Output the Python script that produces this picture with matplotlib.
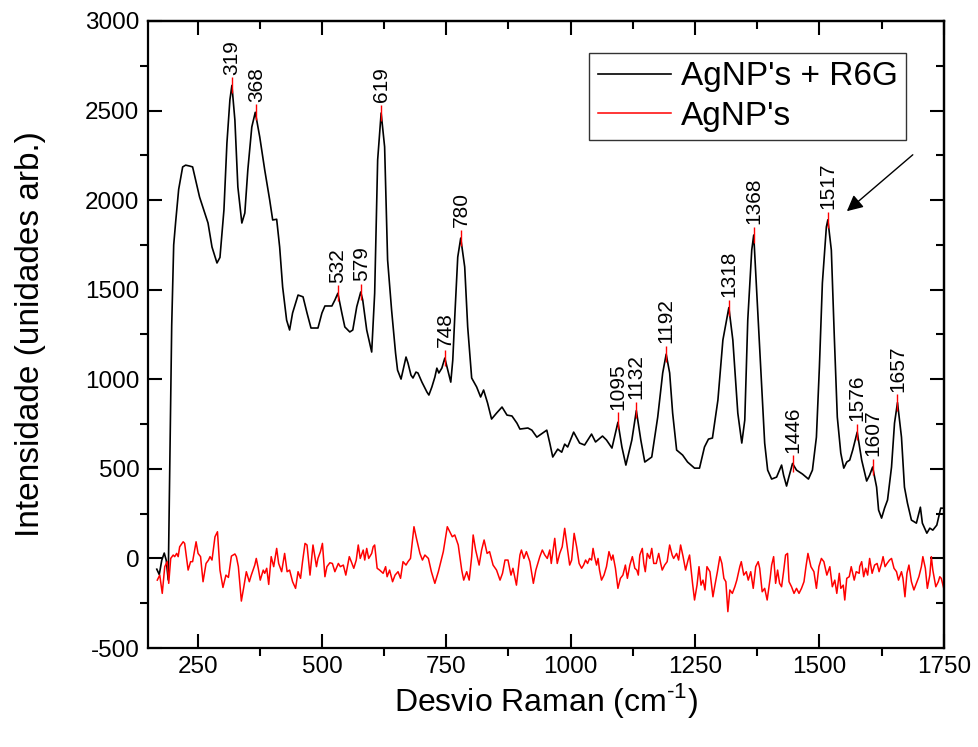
import matplotlib
matplotlib.use("Agg")
import matplotlib.pyplot as plt
import numpy as np

plt.rcParams['font.family'] = ['Liberation Sans', 'DejaVu Sans']
plt.rcParams['mathtext.fontset'] = 'custom'
plt.rcParams['mathtext.rm'] = 'Liberation Sans'
plt.rcParams['axes.unicode_minus'] = False

# espectro AgNP's + R6G
raman_x = [168, 173, 178, 183, 187, 191, 194, 198, 202, 206, 212, 220, 226, 234, 240, 254, 271, 279,
           289, 295, 303, 309, 315, 319, 325, 331, 339, 345, 351, 359, 366, 375, 385, 395, 401, 409,
           415, 421, 429, 435, 441, 452, 462, 470, 478, 492, 500, 506, 520, 526, 532, 540, 546, 556,
           562, 570, 578, 582, 590, 600, 606, 612, 619, 626, 632, 640, 648, 652, 659, 663, 669, 673,
           679, 683, 689, 693, 701, 711, 715, 721, 727, 731, 735, 741, 747, 753, 759, 763, 767, 773,
           779, 787, 793, 801, 811, 819, 825, 833, 841, 851, 862, 872, 882, 892, 898, 914, 922, 932,
           952, 958, 964, 974, 982, 988, 994, 1006, 1018, 1028, 1042, 1050, 1064, 1072, 1083, 1095,
           1103, 1111, 1123, 1132, 1141, 1149, 1163, 1175, 1185, 1192, 1199, 1205, 1213, 1225, 1235,
           1249, 1259, 1269, 1277, 1285, 1296, 1306, 1318, 1326, 1336, 1344, 1350, 1356, 1364, 1368,
           1376, 1384, 1390, 1396, 1404, 1414, 1424, 1428, 1434, 1438, 1446, 1454, 1466, 1478, 1486,
           1494, 1500, 1506, 1514, 1517, 1524, 1530, 1536, 1543, 1549, 1555, 1561, 1567, 1576, 1585,
           1595, 1601, 1607, 1615, 1619, 1625, 1631, 1637, 1645, 1651, 1657, 1665, 1671, 1677, 1685,
           1695, 1703, 1707, 1716, 1722, 1728, 1736, 1744, 1750]
raman_y = [-60, -90, -10, 30, -10, -120, 500, 1300, 1750, 1880, 2060, 2185, 2195, 2190, 2185, 2017, 1872, 1738,
           1649, 1680, 1945, 2319, 2560, 2640, 2447, 2073, 1872, 1928, 2168, 2408, 2490, 2352, 2168, 2000, 1889, 1893,
           1738, 1515, 1330, 1275, 1370, 1470, 1460, 1370, 1286, 1286, 1370, 1409, 1409, 1442, 1480, 1370, 1292, 1264,
           1275, 1405, 1487, 1442, 1275, 1152, 1480, 2224, 2486, 2297, 1666, 1387, 1146, 1051, 1001, 1051, 1124, 1090,
           1023, 1007, 1040, 1035, 984, 929, 912, 957, 1012, 1062, 1035, 1062, 1118, 1051, 984, 1107, 1347, 1682,
           1788, 1627, 1292, 1007, 957, 901, 940, 867, 778, 811, 845, 800, 795, 755, 722, 728, 716, 677,
           716, 644, 566, 610, 593, 638, 622, 705, 644, 633, 694, 650, 683, 661, 616, 760,
           622, 521, 661, 825, 661, 538, 566, 789, 1035, 1140, 1035, 811, 605, 577, 538,
           504, 504, 622, 666, 672, 884, 1219, 1400, 1219, 811, 644, 772, 1330, 1721, 1805,
           1387, 979, 644, 493, 443, 454, 521, 465, 404, 448, 530, 493, 471, 443, 493,
           677, 1068, 1537, 1850, 1890, 1721, 1236, 789, 588, 504, 538, 549, 605, 705, 549,
           432, 465, 510, 398, 270, 225, 281, 326, 510, 755, 870, 677, 398, 309, 214,
           197, 286, 197, 141, 169, 158, 186, 281, 280]

# espectro AgNP's (branco)
agnp_x = [169, 174, 179, 184, 189, 192, 196, 201, 204, 208, 211, 214, 221, 224, 231, 236, 240, 247, 251, 256,
          261, 267, 272, 275, 279, 285, 290, 295, 301, 307, 312, 318, 325, 328, 332, 338, 343, 348, 354, 358,
          365, 368, 372, 376, 382, 385, 389, 393, 398, 403, 409, 413, 419, 425, 430, 435, 441, 447, 452, 457,
          461, 466, 470, 476, 482, 489, 492, 497, 501, 506, 510, 516, 521, 526, 533, 537, 543, 548, 555, 559,
          564, 569, 573, 577, 583, 586, 590, 594, 600, 603, 606, 611, 616, 623, 628, 631, 636, 642, 647, 653,
          658, 663, 669, 673, 678, 685, 690, 697, 702, 707, 714, 720, 727, 734, 744, 752, 757, 762, 767, 774,
          781, 785, 791, 796, 801, 804, 809, 816, 821, 826, 832, 837, 844, 851, 858, 863, 868, 874, 880, 884,
          891, 898, 901, 906, 911, 918, 925, 930, 938, 943, 948, 953, 958, 961, 968, 973,
          978, 983, 988, 993, 998, 1002, 1007, 1012, 1017, 1022, 1026, 1030, 1034, 1038, 1042, 1045, 1048, 1052,
          1055, 1058, 1062, 1067, 1072, 1077, 1082, 1085, 1090, 1095, 1100, 1105, 1110, 1114, 1119, 1124, 1129,
          1133, 1136, 1139, 1144, 1147, 1150, 1154, 1159, 1163, 1167, 1172, 1177, 1181, 1184, 1189, 1194, 1199,
          1204, 1207, 1213, 1217, 1221, 1226, 1231, 1236, 1239, 1245, 1249, 1254, 1258, 1262, 1266, 1270, 1274,
          1280, 1286, 1290, 1295, 1300, 1304, 1308, 1312, 1316, 1320, 1325, 1330, 1334, 1340, 1343, 1348, 1353,
          1357, 1362, 1367, 1372, 1377, 1380, 1385, 1390, 1395, 1401, 1404, 1408, 1412, 1416, 1420, 1424, 1428,
          1432, 1436, 1439, 1444, 1449, 1454, 1459, 1464, 1469, 1473, 1477, 1483, 1489, 1494, 1499, 1504, 1509,
          1515, 1521, 1526, 1531, 1535, 1540, 1543, 1548, 1551, 1555, 1560, 1564, 1570, 1574, 1580, 1581, 1585,
          1589, 1593, 1597, 1601, 1606, 1611, 1616, 1620, 1625, 1628, 1632, 1636, 1641, 1645, 1650, 1655, 1659,
          1665, 1668, 1672, 1676, 1680, 1685, 1690, 1695, 1700, 1705, 1708, 1713, 1717, 1722, 1725, 1728, 1734,
          1739, 1742, 1745, 1750]
agnp_y = [-121, -93, -195, -46, -18, -139, 0, 19, 10, 28, 10, 65, 93, 84, -65, -18, -18, 93, 28, 10,
          -130, -28, -9, 10, -9, 121, 149, -65, -162, -93, -106, 13, 25, 10, -46, -238, -158, -74, -130, -93,
          -37, 0, -55, -121, -65, -83, -55, -145, 10, -46, 56, -28, -74, 28, -74, -65, -130, -167, -74, -111,
          -18, 84, 75, -93, 75, -46, 0, 38, 84, -102, -46, -24, -28, -74, -28, -46, -37, -93, 10, -18,
          -55, -9, 75, 0, 47, -9, 56, 0, 28, 65, 75, -55, -65, -83, -46, -102, -65, -130, -93, -74,
          -111, -18, -37, -18, 0, 177, 112, 28, -9, 19, 0, -74, -139, -74, 38, 177, 149, 121, 131, 75,
          -65, -121, -74, -121, 10, 131, 47, -37, 47, 103, 28, 38, -37, -65, -121, -83, -9, -9, -93, -55,
          -149, 19, 47, 0, 38, -18, -139, -65, 10, 47, 19, 0, 47, -28, 112, -28,
          28, 65, 168, 65, -37, -9, 140, 65, -28, -55, -37, -9, -28, 0, -9, 56, 10, -37,
          0, -65, -121, -93, -46, 38, -9, 19, -55, -167, -111, -93, -37, -111, -37, 10, -55,
          -65, -93, 19, 56, -28, -74, 28, 0, 56, -28, -28, 28, -28, -65, -37, -18, 75,
          19, 0, 28, -9, 75, 10, -65, -9, 19, -139, -232, -149, -46, -149, -121, -176, -46,
          -74, -214, -149, -74, 10, -28, -111, -130, -297, -176, -195, -158, -121, -46, -18, -93, -74,
          -121, -74, -167, -46, -18, -55, -186, -167, -232, -111, -37, 10, -139, -65, -139, -158, -74,
          19, 28, -130, -158, -195, -167, -195, -167, -130, -46, 28, -46, -74, -167, -46, 0, -18,
          -93, -46, -158, -121, -195, -83, -167, -149, -232, -111, -102, -46, -121, -74, -83, -46, -18,
          -102, -55, -93, 0, -83, -37, -28, -74, -28, 10, -46, -28, -9, 0, -55, -74, -121,
          -74, -111, -214, -83, -37, -130, -176, -139, -102, -46, 10, -55, -167, -93, 10, -65, -158,
          -130, -102, -111, -167]

# picos marcados
peak_pos = [319, 368, 532, 579, 619, 748, 780, 1095, 1132, 1192, 1318, 1368, 1446, 1517, 1576, 1607, 1657]
peak_int = [2640, 2490, 1480, 1487, 2486, 1118, 1790, 770, 830, 1140, 1400, 1805, 530, 1890, 705, 510, 870]

fig = plt.figure(figsize=(9.79, 7.47), dpi=100)
ax = fig.add_axes([0.151, 0.1325, 0.813, 0.8395])

ax.plot(raman_x, raman_y, color='black', lw=1.2, label="AgNP's + R6G")
ax.plot(agnp_x, agnp_y, color='red', lw=1.1, label="AgNP's")

# marcas vermelhas e numeros dos picos
ax.vlines(peak_pos, np.array(peak_int) - 45, np.array(peak_int) + 45, color='red', lw=1.0)
for p, h in zip(peak_pos, peak_int):
    ax.text(p, h + 60, str(p), rotation=90, ha='center', va='bottom', fontsize=15)

# seta no pico de 1517
ax.annotate('', xy=(1551, 1928), xytext=(1692, 2263),
            arrowprops=dict(arrowstyle='-|>', color='black', lw=1.0, mutation_scale=24))

ax.set_xlim(150, 1750)
ax.set_ylim(-500, 3000)
ax.set_xticks(np.arange(250, 1751, 250))
ax.set_xticks(np.arange(375, 1750, 250), minor=True)
ax.set_yticks(np.arange(-500, 3001, 500))
ax.set_yticks(np.arange(-250, 3000, 500), minor=True)

ax.tick_params(which='major', direction='in', length=10, width=1.5, labelsize=17.5, pad=6)
ax.tick_params(which='minor', direction='out', length=6, width=1.5)
for s in ax.spines.values():
    s.set_linewidth(1.6)

# eixos de cima e da direita, so com marcas para dentro
top = ax.secondary_xaxis('top')
top.set_xticks(np.arange(250, 1751, 250))
top.set_xticks(np.arange(375, 1750, 250), minor=True)
top.tick_params(which='major', direction='in', length=10, width=1.5, labeltop=False)
top.tick_params(which='minor', direction='in', length=6, width=1.5)
right = ax.secondary_yaxis('right')
right.set_yticks(np.arange(-500, 3001, 500))
right.set_yticks(np.arange(-250, 3000, 500), minor=True)
right.tick_params(which='major', direction='in', length=10, width=1.5, labelright=False)
right.tick_params(which='minor', direction='in', length=6, width=1.5)
for sa in (top, right):
    for s in sa.spines.values():
        s.set_linewidth(1.6)

ax.set_xlabel(r"Desvio Raman (cm$^{\mathregular{\text{-1}}}$)", fontsize=23, labelpad=2)
ax.set_ylabel("Intensidade (unidades arb.)", fontsize=24, labelpad=28)

leg = ax.legend(loc='upper right', bbox_to_anchor=(0.953, 0.949), borderaxespad=0,
                fontsize=24, frameon=True, fancybox=False, handlelength=2.2,
                handletextpad=0.3, borderpad=0.25, labelspacing=0.25)
leg.get_frame().set_edgecolor('black')
leg.get_frame().set_linewidth(1.0)

fig.savefig('out.png', dpi=100)
